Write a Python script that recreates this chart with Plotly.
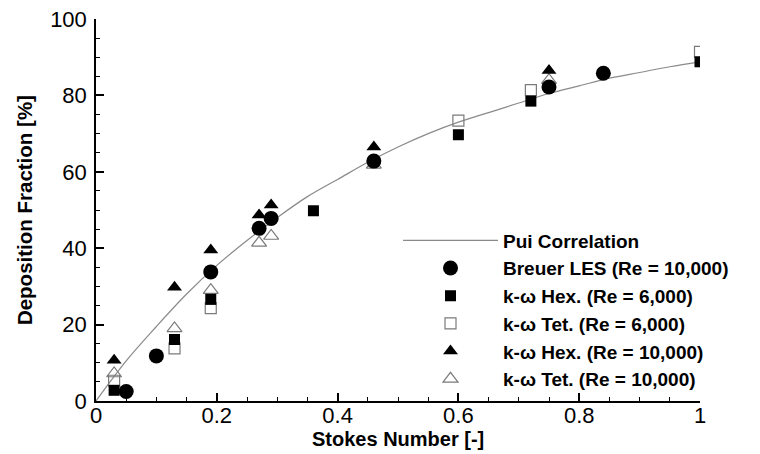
import plotly.graph_objects as go

# Pui correlation curve
pui_x = [0.0, 0.05, 0.1, 0.15, 0.2, 0.25, 0.3, 0.35, 0.4, 0.45, 0.5, 0.55, 0.6, 0.65, 0.7, 0.75, 0.8, 0.85, 0.9, 0.95, 1.0]
pui_y = [0.0, 10.5, 19.5, 28.0, 35.5, 42.0, 48.0, 53.5, 58.0, 62.5, 66.5, 70.0, 73.0, 75.5, 78.0, 80.5, 82.5, 84.5, 86.0, 87.5, 88.8]

# Breuer LES (Re = 10,000)
les_x = [0.05, 0.1, 0.19, 0.27, 0.29, 0.46, 0.75, 0.84]
les_y = [2.5, 11.8, 33.8, 45.2, 47.8, 62.8, 82.2, 85.8]

# k-w Hex. (Re = 6,000)
hex6_x = [0.03, 0.13, 0.19, 0.36, 0.6, 0.72, 1.0]
hex6_y = [2.8, 16.1, 26.6, 49.8, 69.7, 78.5, 88.8]

# k-w Tet. (Re = 6,000)
tet6_x = [0.03, 0.13, 0.19, 0.6, 0.72, 1.0]
tet6_y = [5.3, 13.8, 24.3, 73.4, 81.4, 91.4]

# k-w Hex. (Re = 10,000)
hex10_x = [0.03, 0.13, 0.19, 0.27, 0.29, 0.46, 0.75]
hex10_y = [10.7, 29.8, 39.5, 48.7, 51.3, 66.5, 86.5]

# k-w Tet. (Re = 10,000)
tet10_x = [0.03, 0.13, 0.19, 0.27, 0.29, 0.46, 0.75]
tet10_y = [7.2, 19.0, 29.0, 41.4, 43.2, 61.8, 84.0]

names = ["Pui Correlation", "Breuer LES (Re = 10,000)", "k-\u03c9 Hex. (Re = 6,000)",
         "k-\u03c9 Tet. (Re = 6,000)", "k-\u03c9 Hex. (Re = 10,000)", "k-\u03c9 Tet. (Re = 10,000)"]

x_ticks = [0, 0.2, 0.4, 0.6, 0.8, 1]
x_ticklabels = ["0", "0.2", "0.4", "0.6", "0.8", "1"]
y_ticks = [0, 20, 40, 60, 80, 100]

FONT = "Liberation Sans, Arial, sans-serif"

fig = go.Figure()
fig.add_trace(go.Scatter(x=pui_x, y=pui_y, mode="lines", name=names[0],
                         line=dict(color="#8a8a8a", width=1.2, shape="spline")))
fig.add_trace(go.Scatter(x=tet6_x, y=tet6_y, mode="markers", name=names[3],
                         marker=dict(symbol="square-open", size=11, color="#7a7a7a", line=dict(width=1.2))))
fig.add_trace(go.Scatter(x=tet10_x, y=tet10_y, mode="markers", name=names[5],
                         marker=dict(symbol="triangle-up-open", size=13, color="#7a7a7a", line=dict(width=1.2))))
fig.add_trace(go.Scatter(x=hex6_x, y=hex6_y, mode="markers", name=names[2],
                         marker=dict(symbol="square", size=11, color="black")))
fig.add_trace(go.Scatter(x=hex10_x, y=hex10_y, mode="markers", name=names[4],
                         marker=dict(symbol="triangle-up", size=13, color="black")))
fig.add_trace(go.Scatter(x=les_x, y=les_y, mode="markers", name=names[1],
                         marker=dict(symbol="circle", size=15, color="black")))

order = {names[0]: 1, names[1]: 2, names[2]: 3, names[3]: 4, names[4]: 5, names[5]: 6}
for tr in fig.data:
    tr.legendrank = order[tr.name]

fig.update_layout(
    width=760, height=454,
    margin=dict(l=96, r=60, t=19, b=53, autoexpand=False),
    paper_bgcolor="white", plot_bgcolor="white",
    font=dict(family=FONT, color="black", size=20),
    showlegend=True,
    legend=dict(x=0.5, y=0.47, xanchor="left", yanchor="top",
                font=dict(size=19, family=FONT, weight="bold"),
                itemwidth=95, bgcolor="rgba(0,0,0,0)", tracegroupgap=0,
                itemsizing="trace"),
    xaxis=dict(range=[0, 1], tickvals=x_ticks, ticktext=x_ticklabels, automargin=False,
               showgrid=False, zeroline=False, showline=True, linecolor="black", linewidth=1.5,
               ticks="inside", ticklen=8, tickwidth=1.5, tickcolor="black",
               minor=dict(dtick=0.05, ticks="inside", ticklen=4, tickwidth=1, tickcolor="black"),
               tickfont=dict(size=22, family=FONT), ticklabelstandoff=-6),
    yaxis=dict(range=[0, 100], tickvals=y_ticks, automargin=False,
               showgrid=False, zeroline=False, showline=True, linecolor="black", linewidth=1.5,
               ticks="inside", ticklen=8, tickwidth=1.5, tickcolor="black",
               minor=dict(dtick=5, ticks="inside", ticklen=4, tickwidth=1, tickcolor="black"),
               tickfont=dict(size=22, family=FONT), ticklabelstandoff=3),
    annotations=[
        dict(text="<b>Stokes Number [-]</b>", xref="paper", yref="paper", x=0.5, y=-0.1,
             xanchor="center", yanchor="middle", showarrow=False,
             font=dict(size=20, family=FONT)),
        dict(text="<b>Deposition Fraction [%]</b>", xref="paper", yref="paper", x=-0.119, y=0.5,
             xanchor="center", yanchor="middle", showarrow=False, textangle=-90,
             font=dict(size=20.5, family=FONT)),
    ],
)

fig.write_html("out.html")
